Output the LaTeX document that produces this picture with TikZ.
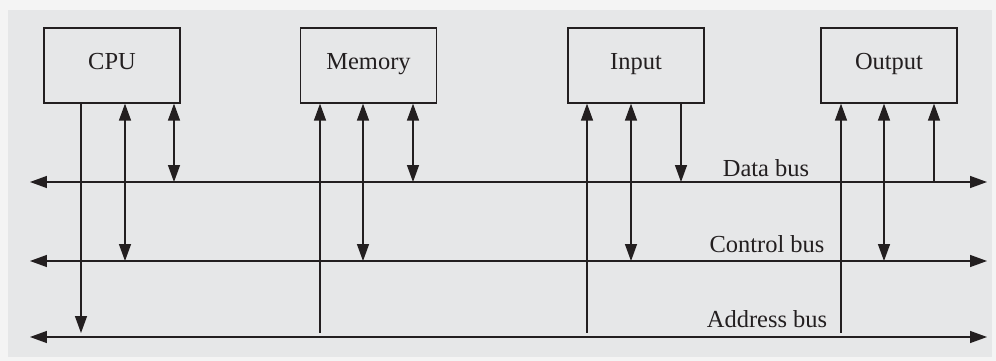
\documentclass[tikz,border=0pt]{standalone}
\usepackage{fontspec}
\setmainfont{Liberation Serif}
\usetikzlibrary{arrows.meta}
\definecolor{pagegray}{HTML}{F4F4F4}
\definecolor{panelgray}{HTML}{E6E7E8}
\definecolor{inkdark}{HTML}{231F20}
\tikzset{
  unit/.style={draw=inkdark, line width=0.9pt, fill=panelgray, minimum width=34mm, minimum height=18.75mm, text height=0.75em, text depth=0.22em, font=\fontsize{17.4}{20}\selectfont, text=inkdark},
  bus/.style={draw=inkdark, line width=0.9pt},
  busname/.style={anchor=base, font=\fontsize{17.4}{20}\selectfont, text=inkdark},
  >={Triangle[length=12pt,width=8.5pt]}
}

\begin{document}
\begin{tikzpicture}[x=0.25mm, y=-0.25mm]
			%%%%% START %%%%%
			
			\useasboundingbox[fill=pagegray] (0, 0) rectangle (996, 361);
			\fill[panelgray] (8, 10) rectangle (992, 357);
			
			% the three buses
			\coordinate (dataL) at (30, 182);   \coordinate (dataR) at (987, 182);
			\coordinate (ctrlL) at (30, 261);   \coordinate (ctrlR) at (987, 261);
			\coordinate (addrL) at (30, 337);   \coordinate (addrR) at (987, 337);
			\coordinate (addrS) at (30, 333);   % where the address stubs stop
			\draw[bus, <->] (dataL) -- (dataR);
			\draw[bus, <->] (ctrlL) -- (ctrlR);
			\draw[bus, <->] (addrL) -- (addrR);
			
			\node[busname] (datalbl) at (766, 176) {Data bus};
			\node[busname] (ctrllbl) at (767, 252) {Control bus};
			\node[busname] (addrlbl) at (767, 327) {Address bus};
			
			% the four units
			\node[unit] (cpu) at (112, 65.5) {CPU};
			\node[unit] (mem) at (368.5, 65.5) {Memory};
			\node[unit] (inp) at (636, 65.5) {Input};
			\node[unit] (outp) at (889, 65.5) {Output};
			
			% CPU
			\draw[bus, ->] (cpu.south -| 81, 0) -- (addrS -| 81, 0);
			\draw[bus, <->] (cpu.south -| 125, 0) -- (ctrlL -| 125, 0);
			\draw[bus, <->] (cpu.south -| 174, 0) -- (dataL -| 174, 0);
			
			% Memory
			\draw[bus, <-] (mem.south -| 320, 0) -- (addrS -| 320, 0);
			\draw[bus, <->] (mem.south -| 363, 0) -- (ctrlL -| 363, 0);
			\draw[bus, <->] (mem.south -| 413, 0) -- (dataL -| 413, 0);
			
			% Input
			\draw[bus, <-] (inp.south -| 587, 0) -- (addrS -| 587, 0);
			\draw[bus, <->] (inp.south -| 631, 0) -- (ctrlL -| 631, 0);
			\draw[bus, ->] (inp.south -| 681, 0) -- (dataL -| 681, 0);
			
			% Output
			\draw[bus, <-] (outp.south -| 841, 0) -- (addrS -| 841, 0);
			\draw[bus, <->] (outp.south -| 884, 0) -- (ctrlL -| 884, 0);
			\draw[bus, <-] (outp.south -| 934, 0) -- (dataL -| 934, 0);
			
			%%%%% END %%%%%
\end{tikzpicture}
\end{document}
